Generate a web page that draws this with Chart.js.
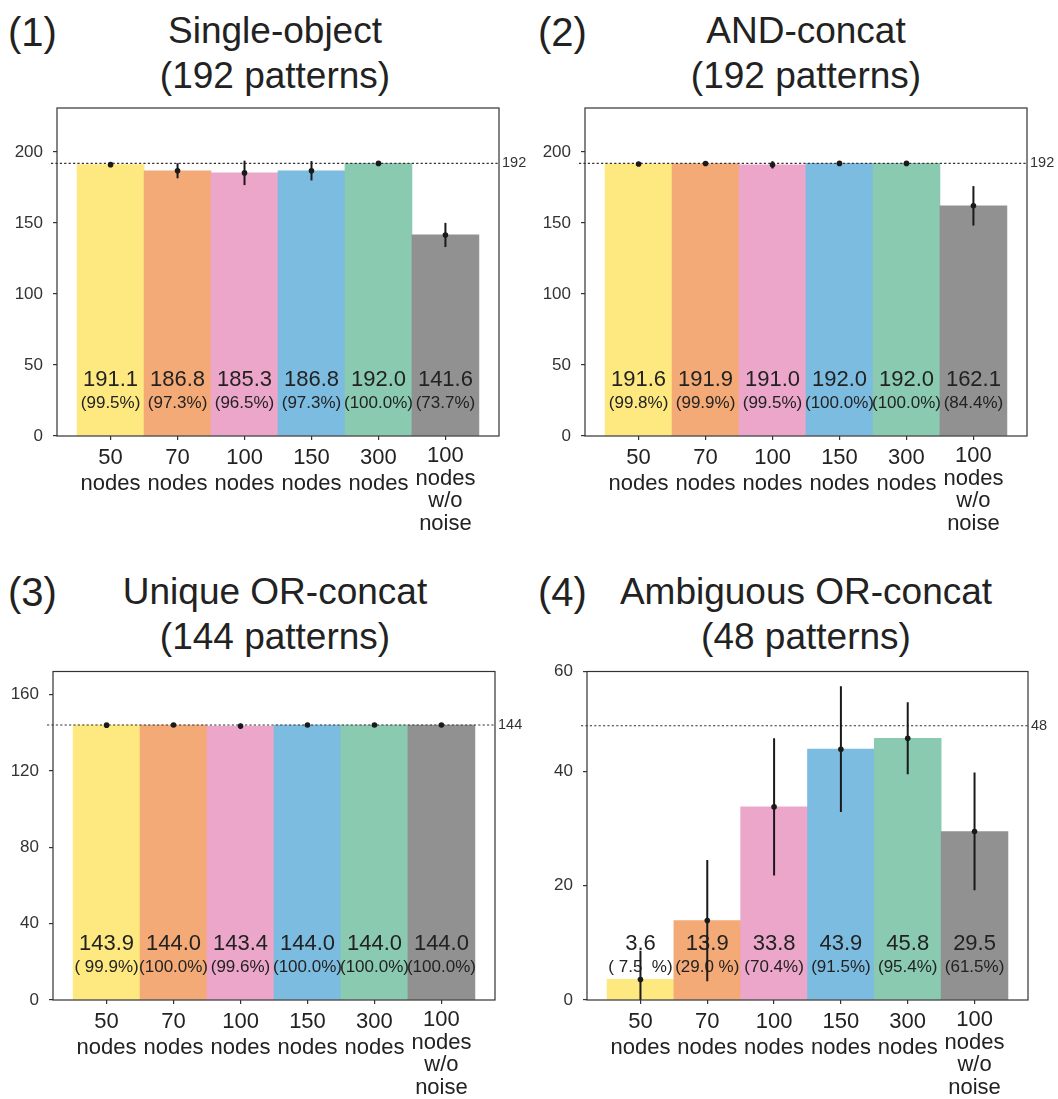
<!DOCTYPE html>
<html>
<head>
<meta charset="utf-8">
<script src="https://cdn.jsdelivr.net/npm/chart.js@4/dist/chart.umd.min.js"></script>
<style>
  html, body { margin: 0; padding: 0; background: #fff; }
  #page { position: relative; width: 1058px; height: 1099px; overflow: hidden; font-family: "Liberation Sans", Arial, sans-serif; color: #222; }
  canvas { position: absolute; }
  .num { position: absolute; font-size: 40px; line-height: 40px; white-space: nowrap; }
  .title { position: absolute; font-size: 37px; line-height: 45px; text-align: center; width: 500px; white-space: nowrap; }
</style>
</head>
<body>
<div id="page">
  <div class="num" style="left:8px; top:12px;">(1)</div>
  <div class="title" style="left:25px; top:8px;">Single-object<br>(192 patterns)</div>
  <div class="num" style="left:538px; top:12px;">(2)</div>
  <div class="title" style="left:556px; top:8px;">AND-concat<br>(192 patterns)</div>
  <div class="num" style="left:8px; top:572px;">(3)</div>
  <div class="title" style="left:25px; top:569px;">Unique OR-concat<br>(144 patterns)</div>
  <div class="num" style="left:538px; top:572px;">(4)</div>
  <div class="title" style="left:556px; top:569px;">Ambiguous OR-concat<br>(48 patterns)</div>

  <canvas id="c1" width="529" height="545" style="left:0px; top:0px;"></canvas>
  <canvas id="c2" width="529" height="545" style="left:529px; top:0px;"></canvas>
  <canvas id="c3" width="529" height="539" style="left:0px; top:560px;"></canvas>
  <canvas id="c4" width="529" height="539" style="left:529px; top:560px;"></canvas>
</div>
<script>
// Network sizes shown on the x axis (multi-line labels)
const categories = [
  ['50', 'nodes'],
  ['70', 'nodes'],
  ['100', 'nodes'],
  ['150', 'nodes'],
  ['300', 'nodes'],
  ['100', 'nodes', 'w/o', 'noise']
];
const barColors = ['#fde980', '#f4aa76', '#eca6ca', '#7cbce0', '#89cab1', '#919191'];

// (1) Single-object, 192 patterns
const singleMean = [191.1, 186.8, 185.3, 186.8, 192.0, 141.6];
const singleErr  = [0.8, 5.3, 8.6, 6.8, 0.3, 8.5];
const singlePct  = ['(99.5%)', '(97.3%)', '(96.5%)', '(97.3%)', '(100.0%)', '(73.7%)'];

// (2) AND-concat, 192 patterns
const andMean = [191.6, 191.9, 191.0, 192.0, 192.0, 162.1];
const andErr  = [0.5, 0.3, 2.6, 0.2, 0.2, 13.9];
const andPct  = ['(99.8%)', '(99.9%)', '(99.5%)', '(100.0%)', '(100.0%)', '(84.4%)'];

// (3) Unique OR-concat, 144 patterns
const uniqueMean = [143.9, 144.0, 143.4, 144.0, 144.0, 144.0];
const uniqueErr  = [0.3, 0.2, 1.3, 0.2, 0.2, 0.2];
const uniquePct  = ['( 99.9%)', '(100.0%)', '(99.6%)', '(100.0%)', '(100.0%)', '(100.0%)'];

// (4) Ambiguous OR-concat, 48 patterns
const ambigMean = [3.6, 13.9, 33.8, 43.9, 45.8, 29.5];
const ambigErr  = [5.0, 10.6, 12.0, 11.0, 6.3, 10.3];
const ambigPct  = ['( 7.5  %)', '(29.0 %)', '(70.4%)', '(91.5%)', '(95.4%)', '(61.5%)'];

// y axis ticks per panel
const yTicks192 = [0, 50, 100, 150, 200];
const yTicks144 = [0, 40, 80, 120, 160];
const yTicks48  = [0, 20, 40, 57.5];
const yTickLabels48 = ['0', '20', '40', '60'];

const FONT = '"Liberation Sans", Arial, sans-serif';
const INK = '#222';

// Draws the frame, the dotted total line, in-bar value labels and error bars
const panelPlugin = {
  id: 'panelDecor',
  afterDatasetsDraw(chart, args, opts) {
    const { ctx, chartArea: a, scales: { x, y } } = chart;
    const { mean, err, pct, ref } = opts;

    // value labels inside the bars
    ctx.save();
    ctx.fillStyle = INK;
    ctx.textAlign = 'center';
    ctx.textBaseline = 'middle';
    mean.forEach((v, i) => {
      const px = x.getPixelForValue(i);
      ctx.font = '22px ' + FONT;
      ctx.fillText(v.toFixed(1), px, a.bottom - 56);
      ctx.font = '17px ' + FONT;
      ctx.fillText(pct[i], px, a.bottom - 33);
    });
    ctx.restore();

    // dotted line for the total number of patterns
    ctx.save();
    const ry = y.getPixelForValue(ref);
    ctx.strokeStyle = '#333';
    ctx.lineWidth = 1.2;
    ctx.setLineDash([2.2, 2.2]);
    ctx.beginPath();
    ctx.moveTo(a.left - 6, ry);
    ctx.lineTo(a.right, ry);
    ctx.stroke();
    ctx.setLineDash([]);
    ctx.fillStyle = '#333';
    ctx.font = '14.5px ' + FONT;
    ctx.textAlign = 'left';
    ctx.textBaseline = 'middle';
    ctx.fillText(String(ref), a.right + 3, ry);
    ctx.restore();

    // error bars with a dot at the mean
    ctx.save();
    ctx.beginPath();
    ctx.rect(a.left, a.top, a.right - a.left, a.bottom - a.top);
    ctx.clip();
    ctx.strokeStyle = '#1a1a1a';
    ctx.fillStyle = '#1a1a1a';
    ctx.lineWidth = 2;
    mean.forEach((v, i) => {
      const px = x.getPixelForValue(i);
      const yHi = y.getPixelForValue(v + err[i]);
      const yLo = y.getPixelForValue(v - err[i]);
      ctx.beginPath();
      ctx.moveTo(px, yHi);
      ctx.lineTo(px, yLo);
      ctx.stroke();
      ctx.beginPath();
      ctx.arc(px, y.getPixelForValue(v), 2.8, 0, Math.PI * 2);
      ctx.fill();
    });
    ctx.restore();

    // plot frame
    ctx.save();
    ctx.strokeStyle = '#333';
    ctx.lineWidth = 1.2;
    ctx.strokeRect(a.left, a.top, a.right - a.left, a.bottom - a.top);
    ctx.restore();
  }
};

function makePanel(id, spec) {
  const canvas = document.getElementById(id);
  const W = canvas.width, H = canvas.height;
  const area = spec.area;
  return new Chart(canvas, {
    type: 'bar',
    data: {
      datasets: [{
        data: spec.mean.map((v, i) => ({ x: i, y: v })),
        backgroundColor: barColors,
        borderWidth: 0,
        categoryPercentage: 1.0,
        barPercentage: 1.0
      }]
    },
    options: {
      responsive: false,
      animation: false,
      devicePixelRatio: 1,
      layout: { padding: { top: area.top, right: W - area.right, left: 0, bottom: 0 } },
      plugins: {
        legend: { display: false },
        tooltip: { enabled: false },
        panelDecor: { mean: spec.mean, err: spec.err, pct: spec.pct, ref: spec.ref }
      },
      scales: {
        x: {
          type: 'linear',
          offset: false,
          min: -0.8,
          max: 5.8,
          afterBuildTicks: s => { s.ticks = categories.map((_, i) => ({ value: i })); },
          afterFit: s => { s.height = H - area.bottom; },
          grid: { offset: false, drawOnChartArea: false, drawTicks: true, tickLength: 4, color: '#333', lineWidth: 1.2 },
          border: { display: false },
          ticks: {
            autoSkip: false,
            maxRotation: 0,
            minRotation: 0,
            padding: 5,
            color: INK,
            font: ctx => ({ family: FONT, size: 22, lineHeight: ctx.index === 5 ? '22.5px' : '26px' }),
            callback: (v, i) => categories[i]
          }
        },
        y: {
          min: 0,
          max: spec.yMax,
          afterBuildTicks: s => { s.ticks = spec.yTicks.map(v => ({ value: v })); },
          afterFit: s => { s.width = area.left; },
          grid: { drawOnChartArea: false, drawTicks: true, tickLength: 4, color: '#333', lineWidth: 1.2 },
          border: { display: false },
          ticks: {
            padding: 10,
            color: '#333',
            font: { family: FONT, size: 17 },
            callback: (v, i) => spec.yLabels ? spec.yLabels[i] : String(v)
          }
        }
      }
    },
    plugins: [panelPlugin]
  });
}

makePanel('c1', { mean: singleMean, err: singleErr, pct: singlePct, ref: 192, yMax: 231, yTicks: yTicks192, area: { left: 57, right: 499, top: 108, bottom: 436 } });
makePanel('c2', { mean: andMean, err: andErr, pct: andPct, ref: 192, yMax: 231, yTicks: yTicks192, area: { left: 56, right: 498, top: 108, bottom: 436 } });
makePanel('c3', { mean: uniqueMean, err: uniqueErr, pct: uniquePct, ref: 144, yMax: 172, yTicks: yTicks144, area: { left: 53, right: 495, top: 111.5, bottom: 440 } });
makePanel('c4', { mean: ambigMean, err: ambigErr, pct: ambigPct, ref: 48, yMax: 57.5, yTicks: yTicks48, yLabels: yTickLabels48, area: { left: 58, right: 499, top: 111.5, bottom: 440 } });
</script>
</body>
</html>
